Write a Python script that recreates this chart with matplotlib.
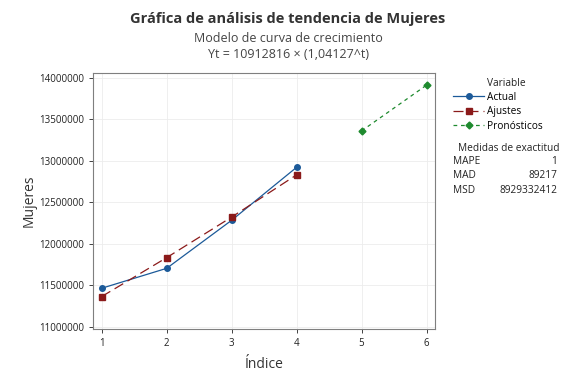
import matplotlib.pyplot as plt

plt.rcParams['font.family'] = ['Open Sans', 'DejaVu Sans']

t_actual = [1, 2, 3, 4]
actual = [11463000, 11703000, 12282000, 12920000]
ajustes = [11363173, 11832132, 12320444, 12828908]
t_fore = [5, 6]
pronosticos = [13358358, 13909658]

medidas = ['MAPE', 'MAD', 'MSD']
medidas_val = ['1', '89217', '8929332412']

c_act = '#1c5a99'
c_fit = '#8b1a1a'
c_for = '#1e8a2e'
txt = '#222222'

fig = plt.figure(figsize=(5.76, 3.84), dpi=100)
ax = fig.add_axes([0.1615, 0.1432, 0.5935, 0.667])

ax.plot(t_actual, actual, color=c_act, lw=0.9, marker='o', ms=4, label='Actual')
ax.plot(t_actual, ajustes, color=c_fit, lw=0.9, ls=(0, (8, 4)), marker='s', ms=4, label='Ajustes')
ax.plot(t_fore, pronosticos, color=c_for, lw=0.9, ls=(0, (3, 3)), marker='D', ms=3.5, label='Pronósticos')

ax.set_xlim(0.866, 6.128)
ax.set_ylim(10972000, 14057000)
ax.set_xticks([1, 2, 3, 4, 5, 6])
ax.set_yticks([11000000, 11500000, 12000000, 12500000, 13000000, 13500000, 14000000])
ax.ticklabel_format(axis='y', style='plain', useOffset=False)
ax.tick_params(labelsize=7, colors=txt, length=3, width=0.6)
ax.grid(True, color='#ececec', lw=0.6)
ax.set_axisbelow(True)
for s in ax.spines.values():
    s.set_color('#7f7f7f')
    s.set_linewidth(0.8)

ax.set_xlabel('Índice', fontsize=10, color='#333333', labelpad=6)
ax.set_ylabel('Mujeres', fontsize=10, color='#333333', labelpad=2)

fig.text(0.5, 0.951, 'Gráfica de análisis de tendencia de Mujeres', ha='center', va='center',
         fontsize=10.5, fontweight='bold', color='#333333')
fig.text(0.5, 0.901, 'Modelo de curva de crecimiento', ha='center', va='center', fontsize=9, color='#444444')
fig.text(0.5, 0.857, 'Yt = 10912816 × (1,04127^t)', ha='center', va='center', fontsize=9, color='#444444')

fs = 7.3
fig.text(487 / 576, 1 - 83 / 384, 'Variable', ha='left', va='center', fontsize=fs, color=txt)
leg = ax.legend(loc='upper left', bbox_to_anchor=(453 / 576, 1 - 92 / 384), bbox_transform=fig.transFigure,
                frameon=False, fontsize=fs, handlelength=3.1, handletextpad=0.25,
                labelspacing=0.33, borderaxespad=0, borderpad=0)

fig.text(509 / 576, 1 - 148 / 384, 'Medidas de exactitud', ha='center', va='center', fontsize=fs, color=txt)
for i, (m, v) in enumerate(zip(medidas, medidas_val)):
    y = 1 - (162 + i * 14) / 384
    fig.text(453 / 576, y, m, ha='left', va='center', fontsize=fs, color=txt)
    fig.text(557 / 576, y, v, ha='right', va='center', fontsize=fs, color=txt)

fig.savefig('out.png', dpi=100)
